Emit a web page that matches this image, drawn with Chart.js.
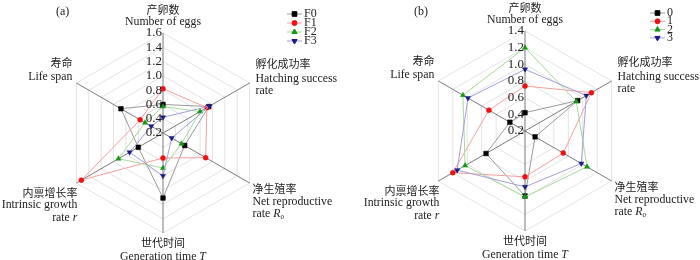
<!DOCTYPE html>
<html>
<head>
<meta charset="utf-8">
<script src="https://cdn.jsdelivr.net/npm/chart.js@4.4.1/dist/chart.umd.min.js"></script>
<style>
  body { margin: 0; background: #fff; }
  #wrap { display: flex; width: 700px; height: 260px; }
  canvas { display: block; }
</style>
</head>
<body>
<div id="wrap">
  <canvas id="chartA" width="350" height="260"></canvas>
  <canvas id="chartB" width="350" height="260"></canvas>
</div>
<script>
// axis titles, clockwise from the top
const axisCn = ['产卵数', '孵化成功率', '净生殖率', '世代时间', '内禀增长率', '寿命'];
const axisEn = [
    [[{t: 'Number of eggs'}]],
    [[{t: 'Hatching success'}], [{t: 'rate'}]],
    [[{t: 'Net reproductive'}], [{t: 'rate '}, {t: 'R', i: true}, {t: '0', sub: true}]],
    [[{t: 'Generation time '}, {t: 'T', i: true}]],
    [[{t: 'Intrinsic growth'}], [{t: 'rate '}, {t: 'r', i: true}]],
    [[{t: 'Life span'}]]
];

// (a) generations
const namesA = ['F0', 'F1', 'F2', 'F3'];
const f0 = [0.60, 0.94, 0.55, 1.11, 0.60, 0.88];
const f1 = [0.82, 0.91, 0.89, 0.55, 1.52, 0.57];
const f2 = [0.57, 0.80, 0.50, 0.69, 0.92, 0.49];
const f3 = [0.42, 0.95, 0.34, 0.80, 0.74, 0.39];
const ticksA = [0.2, 0.4, 0.6, 0.8, 1.0, 1.2, 1.4, 1.6];

// (b) groups
const namesB = ['0', '1', '2', '3'];
const g0 = [0.42, 0.93, 0.34, 0.98, 0.74, 0.41];
const g1 = [0.74, 1.12, 0.73, 0.75, 1.20, 0.70];
const g2 = [1.20, 0.91, 1.06, 0.99, 1.03, 1.06];
const g3 = [0.94, 1.05, 0.98, 0.87, 1.14, 0.99];
const ticksB = [0.2, 0.4, 0.6, 0.8, 1.0, 1.2, 1.4];

const SERIF = '"Liberation Serif", "Times New Roman", serif';
const CJK = '"Noto Sans CJK SC", sans-serif';

const styles = [
    {line: '#9a9a9a', mark: '#000000', shape: 'rect', rot: 0, r: 3.3},
    {line: '#f3a0a0', mark: '#ee1111', shape: 'circle', rot: 0, r: 2.5},
    {line: '#a8d898', mark: '#119911', shape: 'triangle', rot: 0, r: 3},
    {line: '#a0a0d8', mark: '#1a1a88', shape: 'triangle', rot: 180, r: 3}
];

function makeSets(names, rows) {
    return rows.map((row, k) => ({
        label: names[k],
        data: row,
        fill: false,
        borderColor: styles[k].line,
        borderWidth: 1,
        pointStyle: styles[k].shape,
        pointRotation: styles[k].rot,
        pointRadius: styles[k].r,
        pointBackgroundColor: styles[k].mark,
        pointBorderColor: styles[k].mark,
        pointBorderWidth: 0.5,
        order: 3 - k
    }));
}

function runFont(run, size) {
    return (run.i ? 'italic ' : '') + (run.sub ? size * 0.6 : size) + 'px ' + SERIF;
}

function drawRuns(ctx, runs, x, y, align, size) {
    let total = 0;
    runs.forEach(run => { ctx.font = runFont(run, size); total += ctx.measureText(run.t).width; });
    let cx = align === 'right' ? x - total : align === 'center' ? x - total / 2 : x;
    ctx.textAlign = 'left';
    runs.forEach(run => {
        ctx.font = runFont(run, size);
        ctx.fillText(run.t, cx, run.sub ? y + 3 : y);
        cx += ctx.measureText(run.t).width;
    });
}

// label placement per axis: alignment, x shift and line offsets from the outer vertex
const labelPlace = [
    {align: 'center', dx: 0, dy: [-23, -11]},
    {align: 'left', dx: 6, dy: [-19, -4, 8]},
    {align: 'left', dx: 3, dy: [6, 19, 31]},
    {align: 'center', dx: 0, dy: [10, 24]},
    {align: 'right', dx: 1, dy: [10, 22, 35]},
    {align: 'right', dx: -4, dy: [-20, -6]}
];

const decorPlugin = {
    id: 'decor',
    afterDraw(chart, args, opts) {
        const ctx = chart.ctx;
        const s = chart.scales.r;
        ctx.save();
        ctx.fillStyle = '#222';
        ctx.textBaseline = 'middle';

        // tick labels along the top spoke
        ctx.font = '13px ' + SERIF;
        ctx.textAlign = 'right';
        s.ticks.forEach(t => {
            const d = s.getDistanceFromCenterForValue(t.value);
            ctx.fillText(t.value.toFixed(1), s.xCenter - 1, s.yCenter - d);
        });

        // axis titles
        axisCn.forEach((cn, i) => {
            const p = s.getPointPosition(i, s.drawingArea);
            const pl = labelPlace[i];
            const x = p.x + pl.dx;
            ctx.font = '11px ' + CJK;
            ctx.textAlign = pl.align;
            ctx.fillText(cn, x, p.y + pl.dy[0]);
            axisEn[i].forEach((line, j) => drawRuns(ctx, line, x, p.y + pl.dy[j + 1], pl.align, 11.8));
        });

        // panel tag
        ctx.font = '12px ' + SERIF;
        ctx.textAlign = 'left';
        ctx.fillText(opts.tag, opts.tagX, 12);

        // legend: line with marker
        chart.data.datasets.forEach((ds, k) => {
            const y = opts.legY + k * opts.legGap;
            ctx.strokeStyle = ds.borderColor;
            ctx.lineWidth = 1;
            ctx.beginPath();
            ctx.moveTo(opts.legX, y);
            ctx.lineTo(opts.legX + 15, y);
            ctx.stroke();
            ctx.fillStyle = ds.pointBackgroundColor;
            ctx.strokeStyle = ds.pointBorderColor;
            Chart.helpers.drawPoint(ctx, {pointStyle: ds.pointStyle, rotation: ds.pointRotation, radius: ds.pointRadius, borderWidth: 0.5}, opts.legX + 7.5, y);
            ctx.fillStyle = '#222';
            ctx.font = '12px ' + SERIF;
            ctx.fillText(ds.label, opts.legX + 17, y);
        });
        ctx.restore();
    }
};

function makeChart(id, names, rows, ticks, pad, decor) {
    return new Chart(document.getElementById(id), {
        type: 'radar',
        data: {labels: axisCn, datasets: makeSets(names, rows)},
        plugins: [decorPlugin],
        options: {
            responsive: false,
            animation: false,
            layout: {padding: pad},
            elements: {line: {tension: 0}},
            plugins: {
                legend: {display: false},
                tooltip: {enabled: false},
                decor: decor
            },
            scales: {
                r: {
                    min: ticks[0],
                    max: ticks[ticks.length - 1],
                    afterBuildTicks: sc => { sc.ticks = ticks.map(v => ({value: v})); },
                    ticks: {display: false},
                    pointLabels: {display: false},
                    grid: {color: '#e3e3e3', lineWidth: 1},
                    angleLines: {color: '#7a7a7a', lineWidth: 1}
                }
            }
        }
    });
}

makeChart('chartA', namesA, [f0, f1, f2, f3], ticksA,
    {left: 63, right: 87, top: 33, bottom: 27},
    {tag: '(a)', tagX: 56, legX: 287, legY: 14, legGap: 9});

makeChart('chartB', namesB, [g0, g1, g2, g3], ticksB,
    {left: 75, right: 75, top: 31, bottom: 29},
    {tag: '(b)', tagX: 64, legX: 300, legY: 13, legGap: 8.3});
</script>
</body>
</html>
